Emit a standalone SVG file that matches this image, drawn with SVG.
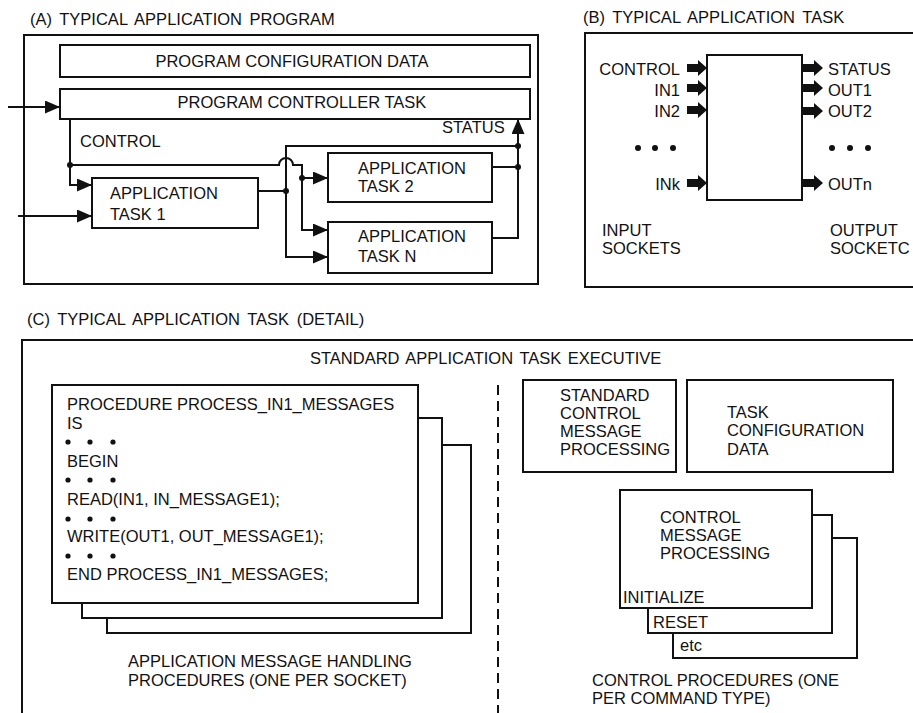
<svg xmlns="http://www.w3.org/2000/svg" xmlns:xlink="http://www.w3.org/1999/xlink" width="913" height="713" viewBox="0 0 913 713">
<style>
  .box{fill:#fff;stroke:#111;stroke-width:2}
  .ln{fill:none;stroke:#111;stroke-width:2}
  .dash{fill:none;stroke:#111;stroke-width:2;stroke-dasharray:10 6}
  .dot{fill:#111}
  text{font-family:"Liberation Sans",Arial,Helvetica,sans-serif;font-size:16.5px;fill:#111}
  .title{word-spacing:3px}
  .end{text-anchor:end}
  .mid{text-anchor:middle}
</style>
<defs>
  <marker id="ah" markerWidth="15" markerHeight="13" refX="15" refY="6.5" orient="auto" markerUnits="userSpaceOnUse">
    <path d="M0,0 L15,6.5 L0,13 Z" fill="#111"/>
  </marker>
  <path id="fat" d="M0,-4 H11 V-8 L20,0 L11,8 V4 H0 Z" fill="#111"/>
</defs>
<rect width="913" height="713" fill="#fff"/>

<!-- ===== Panel A ===== -->
<text class="title" x="30" y="25">(A) TYPICAL APPLICATION PROGRAM</text>
<g id="panelA">
  <rect class="box" x="24" y="35" width="514" height="249"/>
</g>
<g id="programConfigData">
  <rect class="box" x="60" y="45" width="470" height="32"/>
  <text class="mid" x="292" y="67">PROGRAM CONFIGURATION DATA</text>
</g>
<g id="programControllerTask">
  <rect class="box" x="60" y="89" width="470" height="30"/>
  <text class="mid" x="302" y="108">PROGRAM CONTROLLER TASK</text>
</g>
<g id="appTask1">
  <rect class="box" x="92" y="178" width="166" height="50"/>
  <text x="110" y="199">APPLICATION</text>
  <text x="110" y="220">TASK 1</text>
</g>
<g id="appTask2">
  <rect class="box" x="328" y="153" width="164" height="49"/>
  <text x="358" y="174">APPLICATION</text>
  <text x="358" y="192">TASK 2</text>
</g>
<g id="appTaskN">
  <rect class="box" x="328" y="222" width="164" height="51"/>
  <text x="358" y="242">APPLICATION</text>
  <text x="358" y="262">TASK N</text>
</g>
<g id="connectorsA">
  <path class="ln" d="M8,107 H60" marker-end="url(#ah)"/>
  <path class="ln" d="M70,119 V185 H92" marker-end="url(#ah)"/>
  <path class="ln" d="M18,216 H92" marker-end="url(#ah)"/>
  <path class="ln" d="M70,165 H279 A7,7 0 0 1 293,165 H302 V230 H328" marker-end="url(#ah)"/>
  <path class="ln" d="M302,178 H328" marker-end="url(#ah)"/>
  <path class="ln" d="M258,191 H286"/>
  <path class="ln" d="M518,146 H286 V257 H328" marker-end="url(#ah)"/>
  <path class="ln" d="M492,167 H518"/>
  <path class="ln" d="M492,238 H518 V119" marker-end="url(#ah)"/>
  <circle class="dot" cx="70" cy="165" r="3"/>
  <circle class="dot" cx="286" cy="191" r="3"/>
  <circle class="dot" cx="302" cy="178" r="3"/>
  <circle class="dot" cx="518" cy="146" r="3"/>
  <circle class="dot" cx="518" cy="167" r="3"/>
  <text x="80" y="147">CONTROL</text>
  <text x="442" y="133">STATUS</text>
</g>

<!-- ===== Panel B ===== -->
<text class="title" x="583" y="23">(B) TYPICAL APPLICATION TASK</text>
<g id="panelB">
  <rect class="box" x="585" y="33" width="340" height="254"/>
  <text x="602" y="236">INPUT</text>
  <text x="602" y="254">SOCKETS</text>
  <text x="830" y="236">OUTPUT</text>
  <text x="830" y="254">SOCKETC</text>
</g>
<g id="taskBlock">
  <rect class="box" x="707" y="55" width="95" height="145"/>
</g>
<g id="sockets">
  <use xlink:href="#fat" x="687" y="68"/>
  <use xlink:href="#fat" x="687" y="88"/>
  <use xlink:href="#fat" x="687" y="110"/>
  <use xlink:href="#fat" x="687" y="183"/>
  <use xlink:href="#fat" x="803" y="68"/>
  <use xlink:href="#fat" x="803" y="88"/>
  <use xlink:href="#fat" x="803" y="111"/>
  <use xlink:href="#fat" x="803" y="183"/>
  <text class="end" x="680" y="75">CONTROL</text>
  <text class="end" x="680" y="96">IN1</text>
  <text class="end" x="680" y="117">IN2</text>
  <text class="end" x="680" y="190">INk</text>
  <text x="828" y="75">STATUS</text>
  <text x="828" y="96">OUT1</text>
  <text x="828" y="117">OUT2</text>
  <text x="828" y="190">OUTn</text>
  <circle class="dot" cx="638" cy="148" r="3"/>
  <circle class="dot" cx="655" cy="148" r="3"/>
  <circle class="dot" cx="673" cy="148" r="3"/>
  <circle class="dot" cx="832" cy="148" r="3"/>
  <circle class="dot" cx="850" cy="148" r="3"/>
  <circle class="dot" cx="868" cy="148" r="3"/>
</g>

<!-- ===== Panel C ===== -->
<text class="title" x="27" y="325">(C) TYPICAL APPLICATION TASK (DETAIL)</text>
<g id="panelC">
  <path class="ln" d="M22,720 V340 H925"/>
  <text x="310" y="364" style="word-spacing:2px">STANDARD APPLICATION TASK EXECUTIVE</text>
  <path class="dash" d="M498,385 V713"/>
</g>
<g id="messageProcedures">
  <rect class="box" x="107" y="445" width="364" height="188"/>
  <rect class="box" x="82" y="418" width="360" height="200"/>
  <rect class="box" x="52" y="385" width="366" height="218"/>
  <text x="67" y="410">PROCEDURE PROCESS_IN1_MESSAGES</text>
  <text x="67" y="429">IS</text>
  <circle class="dot" cx="68" cy="442" r="2.6"/><circle class="dot" cx="90" cy="442" r="2.6"/><circle class="dot" cx="113" cy="442" r="2.6"/>
  <text x="67" y="467">BEGIN</text>
  <circle class="dot" cx="68" cy="480" r="2.6"/><circle class="dot" cx="90" cy="480" r="2.6"/><circle class="dot" cx="113" cy="480" r="2.6"/>
  <text x="67" y="505">READ(IN1, IN_MESSAGE1);</text>
  <circle class="dot" cx="68" cy="519" r="2.6"/><circle class="dot" cx="90" cy="519" r="2.6"/><circle class="dot" cx="113" cy="519" r="2.6"/>
  <text x="67" y="542">WRITE(OUT1, OUT_MESSAGE1);</text>
  <circle class="dot" cx="68" cy="556" r="2.6"/><circle class="dot" cx="90" cy="556" r="2.6"/><circle class="dot" cx="113" cy="556" r="2.6"/>
  <text x="67" y="580">END PROCESS_IN1_MESSAGES;</text>
  <text x="128" y="667">APPLICATION MESSAGE HANDLING</text>
  <text x="128" y="686">PROCEDURES (ONE PER SOCKET)</text>
</g>
<g id="stdControlMsgProcessing">
  <rect class="box" x="523" y="380" width="153" height="92"/>
  <text x="560" y="401">STANDARD</text>
  <text x="560" y="419">CONTROL</text>
  <text x="560" y="437">MESSAGE</text>
  <text x="560" y="455">PROCESSING</text>
</g>
<g id="taskConfigData">
  <rect class="box" x="687" y="380" width="206" height="92"/>
  <text x="727" y="418">TASK</text>
  <text x="727" y="436">CONFIGURATION</text>
  <text x="727" y="455">DATA</text>
</g>
<g id="controlProcedures">
  <rect class="box" x="673" y="538" width="184" height="120"/>
  <rect class="box" x="648" y="515" width="184" height="118"/>
  <rect class="box" x="620" y="490" width="192" height="118"/>
  <text x="660" y="523">CONTROL</text>
  <text x="660" y="541">MESSAGE</text>
  <text x="660" y="559">PROCESSING</text>
  <text x="623" y="603">INITIALIZE</text>
  <text x="653" y="628">RESET</text>
  <text x="680" y="651">etc</text>
  <text x="592" y="686">CONTROL PROCEDURES (ONE</text>
  <text x="592" y="704">PER COMMAND TYPE)</text>
</g>
</svg>
